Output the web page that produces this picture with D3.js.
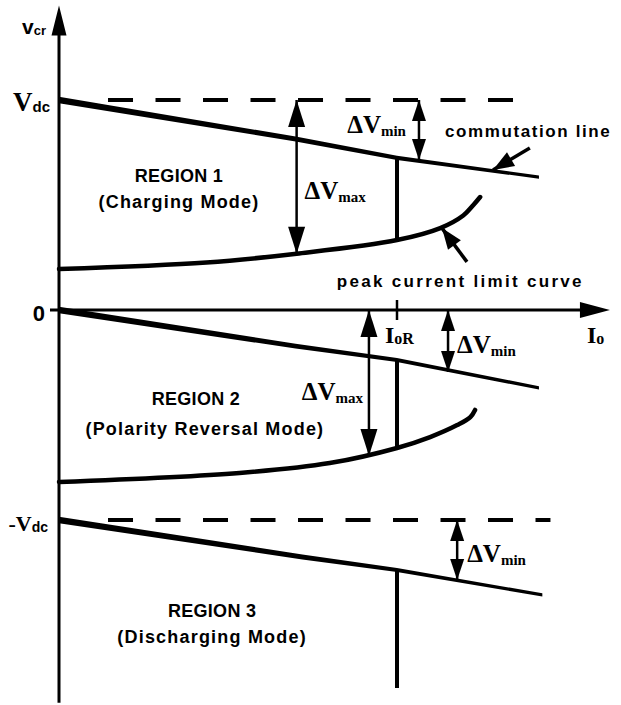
<!DOCTYPE html>
<html>
<head>
<meta charset="utf-8">
<style>
body { margin: 0; background: #fff; }
svg { display: block; }
.region { font-family: "Liberation Sans", Arial, sans-serif; font-weight: bold; font-size: 18px; }
.note { font-family: "Liberation Sans", Arial, sans-serif; font-weight: bold; font-size: 17px; letter-spacing: 2.3px; }
.sym { font-family: "Liberation Serif", "Times New Roman", serif; font-weight: bold; }
.sans { font-family: "Liberation Sans", Arial, sans-serif; font-weight: bold; }
</style>
</head>
<body>
<div id="chart"></div>
<script src="https://cdn.jsdelivr.net/npm/d3@7.8.5/dist/d3.min.js"></script>
<script>
const width = 621, height = 705;

// all values per unit: Io / IoR on x, vcr / Vdc on y
const commIo  = [0, 0.7, 1, 1.42];
const commIo3 = [0, 0.72, 1, 1.43];
const commV1 = [1.0, 0.814, 0.724, 0.633];
const commV2 = [0, -0.172, -0.238, -0.371];
const commV3 = [-1, -1.176, -1.238, -1.357];

const peakIo1 = [0, 0.436, 0.703, 1.0, 1.128, 1.196, 1.226, 1.246];
const peakV1  = [0.195, 0.226, 0.268, 0.333, 0.39, 0.45, 0.5, 0.538];
const peakIo2 = [0, 0.534, 0.801, 1.0, 1.098, 1.178, 1.217, 1.231];
const peakV2  = [-0.819, -0.776, -0.729, -0.657, -0.605, -0.548, -0.51, -0.476];

// vertical line at IoR in each region
const stepTop    = [0.724, -0.238, -1.238];
const stepBottom = [0.333, -0.657, -1.8];

// dashed +/-Vdc levels
const dashLevels = [1, -1];
const dashStart  = 0.145;
const dashEnds   = [1.344, 1.454];

// delta V arrows
const dvIo   = [0.703, 1.065, 0.917, 1.151, 1.178];
const dvFrom = [1, 1, 0, 0, -1];
const dvTo   = [0.268, 0.714, -0.695, -0.295, -1.286];
const dvSub  = ["max", "min", "max", "min", "min"];

const regionNames = ["REGION 1", "REGION 2", "REGION 3"];
const regionModes = ["(Charging Mode)", "(Polarity Reversal Mode)", "(Discharging Mode)"];

const yTicks = [1, 0, -1];
const yTickMain = ["V", "0", "-V"];
const yTickSub  = ["dc", "", "dc"];
const xTicks = [1];

const axisTopV = 1.45, axisBottomV = -1.87, axisEndIo = 1.63;

const x = d3.scaleLinear().domain([0, 1]).range([59, 397]);
const y = d3.scaleLinear().domain([-1, 1]).range([520, 100]);
const thick = d3.scaleLinear().domain([0, 1.43]).range([6.5, 3.2]);

const svg = d3.select("#chart").append("svg")
    .attr("width", width)
    .attr("height", height);

const x0 = x(0), y0 = y(0);

function head(tip, from, len, half) {
    const dx = tip[0] - from[0], dy = tip[1] - from[1];
    const L = Math.hypot(dx, dy);
    const ux = dx / L, uy = dy / L;
    const bx = tip[0] - ux * len, by = tip[1] - uy * len;
    svg.append("polygon")
        .attr("points", [tip, [bx - uy * half, by + ux * half], [bx + uy * half, by - ux * half]].map(p => p.join(",")).join(" "))
        .attr("fill", "#000");
}

function shaft(a, b, w) {
    svg.append("line")
        .attr("x1", a[0]).attr("y1", a[1])
        .attr("x2", b[0]).attr("y2", b[1])
        .attr("stroke", "#000").attr("stroke-width", w);
}

// axes
shaft([x0, y(axisBottomV)], [x0, y(axisTopV) + 20], 3);
head([x0, y(axisTopV)], [x0, y0], 30, 7.5);
shaft([x0 - 9, y0], [x(axisEndIo) - 20, y0], 3);
head([x(axisEndIo), y0], [x0, y0], 30, 8);

xTicks.forEach(t => shaft([x(t), y0 - 10], [x(t), y0 + 10], 2.5));

// axis labels
const vcr = svg.append("text").attr("class", "sans").attr("x", x0 - 37).attr("y", y(axisTopV) + 28);
vcr.append("tspan").attr("font-size", 21).text("v");
vcr.append("tspan").attr("font-size", 13).attr("dy", 1).text("cr");

yTicks.forEach((t, i) => {
    const tx = svg.append("text").attr("text-anchor", "end")
        .attr("x", x0 - (i === 2 ? 11 : 9)).attr("y", y(t) + 11);
    if (yTickSub[i]) {
        tx.append("tspan").attr("class", "sym").attr("font-size", i === 0 ? 27 : 22).text(yTickMain[i]);
        tx.append("tspan").attr("class", "sans").attr("font-size", i === 0 ? 15 : 14).attr("dy", 1).text(yTickSub[i]);
    } else {
        tx.attr("class", "sans").attr("font-size", 22).attr("x", x0 - 14).text(yTickMain[i]);
    }
});

const ior = svg.append("text").attr("class", "sym").attr("x", x(1) - 12).attr("y", y0 + 33);
ior.append("tspan").attr("font-size", 24).text("I");
ior.append("tspan").attr("font-size", 16).attr("dy", 1).text("oR");

const io = svg.append("text").attr("class", "sym").attr("x", x(axisEndIo) - 23).attr("y", y0 + 33);
io.append("tspan").attr("font-size", 24).text("I");
io.append("tspan").attr("font-size", 16).attr("dy", 1).text("o");

// dashed +/-Vdc lines
dashLevels.forEach((lv, i) => {
    svg.append("line")
        .attr("x1", x(dashStart)).attr("x2", x(dashEnds[i]))
        .attr("y1", y(lv)).attr("y2", y(lv))
        .attr("stroke", "#000").attr("stroke-width", 4)
        .attr("stroke-dasharray", "25,22.5");
});

// commutation lines, tapering thickness
const band = d3.area()
    .x(d => x(d[0]))
    .y0(d => y(d[1]) - thick(d[0]) / 2)
    .y1(d => y(d[1]) + thick(d[0]) / 2);

[[commIo, commV1], [commIo, commV2], [commIo3, commV3]].forEach(([xs, vs]) => {
    svg.append("path")
        .datum(d3.zip(xs, vs))
        .attr("fill", "#000")
        .attr("d", band);
});

// peak current limit curves
const curve = d3.line()
    .x(d => x(d[0]))
    .y(d => y(d[1]))
    .curve(d3.curveCatmullRom.alpha(0.5));

[[peakIo1, peakV1], [peakIo2, peakV2]].forEach(([xs, vs]) => {
    svg.append("path")
        .datum(d3.zip(xs, vs))
        .attr("fill", "none")
        .attr("stroke", "#000")
        .attr("stroke-width", 4.5)
        .attr("stroke-linecap", "round")
        .attr("d", curve);
});

// vertical lines at IoR
stepTop.forEach((t, i) => shaft([x(1), y(t)], [x(1), y(stepBottom[i])], 4));

// delta V double arrows
dvIo.forEach((v, i) => {
    const a = [x(v), y(dvFrom[i])], b = [x(v), y(dvTo[i])];
    const big = dvSub[i] === "max";
    shaft(a, b, 2.5);
    head(a, b, big ? 27 : 21, big ? 8.5 : 7);
    head(b, a, big ? 27 : 21, big ? 8.5 : 7);
});

function dvLabel(px, py, sub, anchor) {
    const t = svg.append("text").attr("class", "sym").attr("x", px).attr("y", py).attr("text-anchor", anchor);
    t.append("tspan").attr("font-size", 25).text("\u0394V");
    t.append("tspan").attr("font-size", 15).attr("dy", 3).text(sub);
}
dvLabel(x(dvIo[1]) - 13, y(0.843), dvSub[1], "end");
dvLabel(x(dvIo[0]) + 8, y(0.529), dvSub[0], "start");
dvLabel(x(dvIo[2]) - 6, y(-0.429), dvSub[2], "end");
dvLabel(x(dvIo[3]) + 9, y(-0.205), dvSub[3], "start");
dvLabel(x(dvIo[4]) + 10, y(-1.2), dvSub[4], "start");

// pointer arrows
function pointer(from, to) {
    const a = [x(from[0]), y(from[1])], b = [x(to[0]), y(to[1])];
    shaft(a, b, 3.5);
    head(b, a, 21, 8);
}
pointer([1.393, 0.771], [1.284, 0.667]);
pointer([1.207, 0.229], [1.133, 0.39]);

svg.append("text").attr("class", "note").attr("x", x(1.142)).attr("y", y(0.824))
    .style("letter-spacing", "1.6px").text("commutation line");
svg.append("text").attr("class", "note").attr("x", x(0.822)).attr("y", y(0.11)).text("peak current limit curve");

// region captions
const capIo = [0.355, 0.405, 0.453];
const capV  = [0.61, -0.452, -1.462];
regionNames.forEach((r, i) => {
    svg.append("text").attr("class", "region")
        .attr("text-anchor", "middle")
        .attr("x", x(capIo[i])).attr("y", y(capV[i]))
        .attr("letter-spacing", 0.3)
        .text(r);
    svg.append("text").attr("class", "region")
        .attr("text-anchor", "middle")
        .attr("x", x(capIo[i]) + (i === 1 ? 9 : 0)).attr("y", y(capV[i]) + (i === 1 ? 30 : 26))
        .attr("letter-spacing", 1.2)
        .text(regionModes[i]);
});
</script>
</body>
</html>
